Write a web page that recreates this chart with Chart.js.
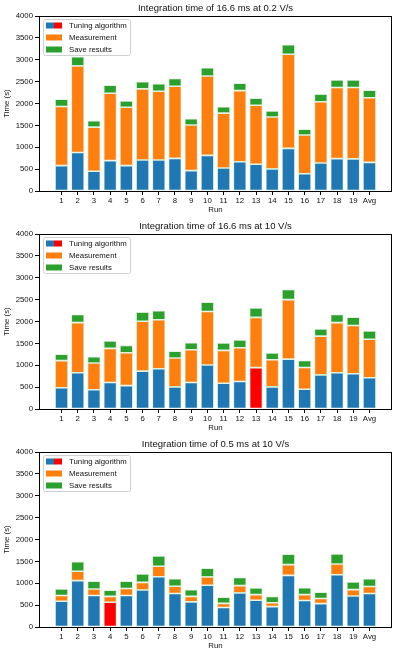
<!DOCTYPE html>
<html>
<head>
<meta charset="utf-8">
<script src="https://cdn.jsdelivr.net/npm/chart.js@4"></script>
<style>
  body { margin: 0; background: #fff; }
  .wrap { position: absolute; left: 0; width: 396px; height: 219px; }
</style>
</head>
<body>
<div class="wrap" style="top:0"><canvas id="c1" width="396" height="219"></canvas></div>
<div class="wrap" style="top:218px"><canvas id="c2" width="396" height="219"></canvas></div>
<div class="wrap" style="top:436px"><canvas id="c3" width="396" height="219"></canvas></div>
<script>
const runs = ["1","2","3","4","5","6","7","8","9","10","11","12","13","14","15","16","17","18","19","Avg"];
const yTicks = [0, 500, 1000, 1500, 2000, 2500, 3000, 3500, 4000];

// 16.6 ms at 0.2 V/s
const tuning1 = [580, 880, 450, 695, 580, 710, 710, 745, 465, 815, 525, 670, 610, 505, 975, 395, 640, 740, 735, 655];
const meas1   = [1350, 1980, 1010, 1540, 1335, 1625, 1570, 1650, 1045, 1815, 1255, 1625, 1350, 1185, 2150, 885, 1400, 1625, 1630, 1475];
const save1   = [170, 210, 145, 185, 145, 165, 170, 175, 140, 190, 145, 170, 160, 140, 220, 130, 175, 175, 175, 175];

// 16.6 ms at 10 V/s
const tuning2 = [485, 830, 440, 605, 535, 865, 920, 505, 605, 1005, 590, 630, 945, 505, 1140, 450, 780, 830, 805, 715];
const meas2   = [620, 1145, 610, 780, 750, 1140, 1120, 660, 750, 1225, 750, 770, 1150, 620, 1360, 500, 885, 1145, 1105, 880];
const save2   = [145, 185, 145, 170, 170, 210, 205, 155, 160, 210, 170, 180, 215, 155, 230, 160, 165, 185, 190, 190];

// 0.5 ms at 10 V/s
const tuning3 = [590, 1060, 720, 565, 720, 845, 1150, 765, 575, 955, 445, 780, 610, 465, 1180, 605, 535, 1195, 710, 765];
const meas3   = [130, 215, 150, 135, 160, 175, 240, 165, 125, 190, 95, 165, 130, 90, 245, 135, 115, 245, 145, 160];
const save3   = [150, 220, 175, 140, 165, 195, 235, 175, 155, 200, 140, 185, 155, 145, 240, 160, 145, 230, 175, 180];

const BLUE = "#1f77b4", ORANGE = "#ff7f0e", GREEN = "#2ca02c", RED = "#ff0000";
const EDGE = "rgba(200,232,200,0.9)";
const FONT = "'Liberation Sans', Arial, sans-serif";

// title over the axes, frame around them, legend inside the plot (matplotlib style)
const framePlugin = {
  id: "frameLegend",
  afterDraw(chart, args, opts) {
    const { ctx, chartArea: a } = chart;
    ctx.save();
    ctx.fillStyle = "#111";
    ctx.font = "9.5px " + FONT;
    ctx.textAlign = "center";
    ctx.textBaseline = "middle";
    ctx.fillText(opts.text, (a.left + a.right) / 2, a.top - 8);

    ctx.strokeStyle = "#000";
    ctx.lineWidth = 1;
    ctx.strokeRect(a.left + 0.5, a.top + 0.5, a.right - a.left - 1, a.bottom - a.top);

    const x0 = a.left + 4, y0 = a.top + 3, w = 87, h = 36, r = 2;
    ctx.fillStyle = "rgba(255,255,255,0.8)";
    ctx.strokeStyle = "#d0d0d0";
    ctx.beginPath();
    ctx.roundRect(x0 + 0.5, y0 + 0.5, w, h, r);
    ctx.fill();
    ctx.stroke();

    ctx.font = "7.8px " + FONT;
    ctx.textAlign = "left";
    chart.data.datasets.forEach((ds, i) => {
      const cy = y0 + 6.5 + i * 12;
      const sx = x0 + 3;
      if (i === 0) {
        ctx.fillStyle = BLUE;
        ctx.fillRect(sx, cy - 3, 8, 6);
        ctx.fillStyle = RED;
        ctx.fillRect(sx + 8, cy - 3, 8, 6);
      } else {
        ctx.fillStyle = ds.swatch;
        ctx.fillRect(sx, cy - 3, 16, 6);
      }
      ctx.fillStyle = "#111";
      ctx.fillText(ds.label, x0 + 26, cy + 0.5);
    });
    ctx.restore();
  }
};

function makeChart(id, title, tuning, meas, save, redIndex) {
  const pts = arr => arr.map((v, i) => ({ x: i, y: v }));
  const tuningColors = tuning.map((_, i) => (i === redIndex ? RED : BLUE));
  new Chart(document.getElementById(id), {
    type: "bar",
    data: {
      datasets: [
        { label: "Tuning algorithm", data: pts(tuning), backgroundColor: tuningColors, swatch: BLUE },
        { label: "Measurement", data: pts(meas), backgroundColor: ORANGE, swatch: ORANGE },
        { label: "Save results", data: pts(save), backgroundColor: GREEN, swatch: GREEN }
      ].map(d => Object.assign(d, {
        borderColor: EDGE, borderWidth: 0.8, borderSkipped: false,
        barPercentage: 0.8, categoryPercentage: 1.0
      }))
    },
    options: {
      responsive: false,
      animation: false,
      devicePixelRatio: 1,
      layout: { padding: { left: 0, right: 4, top: 16, bottom: 0 } },
      plugins: {
        legend: { display: false },
        tooltip: { enabled: false },
        title: { display: false },
        frameLegend: { text: title }
      },
      scales: {
        x: {
          type: "linear", stacked: true, min: -1.39, max: 20.39, offset: false,
          afterBuildTicks: s => { s.ticks = runs.map((_, i) => ({ value: i })); },
          afterFit: s => { s.height = 28; },
          grid: { display: true, drawOnChartArea: false, drawTicks: true, tickLength: 4, color: "#000", offset: false },
          border: { display: false },
          ticks: {
            autoSkip: false, maxRotation: 0, padding: 1, color: "#111",
            font: { family: FONT, size: 7.8 },
            callback: v => runs[v]
          },
          title: {
            display: true, text: "Run", color: "#111",
            font: { family: FONT, size: 7.8 }, padding: { top: 0, bottom: 4 }
          }
        },
        y: {
          stacked: true, min: 0, max: 4000,
          afterBuildTicks: s => { s.ticks = yTicks.map(v => ({ value: v })); },
          afterFit: s => { s.width = 39; },
          grid: { display: true, drawOnChartArea: false, drawTicks: true, tickLength: 4, color: "#000" },
          border: { display: false },
          ticks: { padding: 2, color: "#111", font: { family: FONT, size: 7.8 }, callback: v => String(v) },
          title: {
            display: true, text: "Time (s)", color: "#111",
            font: { family: FONT, size: 7.8 }, padding: { top: 2, bottom: 0 }
          }
        }
      }
    },
    plugins: [framePlugin]
  });
}

makeChart("c1", "Integration time of 16.6 ms at 0.2 V/s", tuning1, meas1, save1, -1);
makeChart("c2", "Integration time of 16.6 ms at 10 V/s", tuning2, meas2, save2, 12);
makeChart("c3", "Integration time of 0.5 ms at 10 V/s", tuning3, meas3, save3, 3);
</script>
</body>
</html>
